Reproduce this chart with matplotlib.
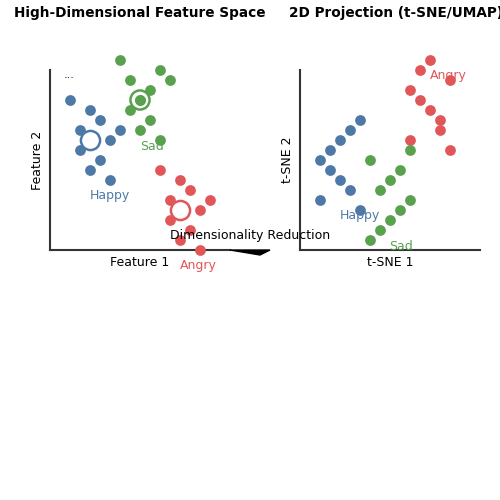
import matplotlib
matplotlib.use("Agg")
import matplotlib.pyplot as plt

BLUE, GREEN, RED = "#4e79a7", "#59a14f", "#e15759"

# high-dimensional space (feature units)
hd_green_x = [12, 13, 16, 17, 15, 14, 13, 15, 14, 16]
hd_green_y = [6, 8, 7, 8, 9, 10, 11, 12, 13, 14]
hd_blue_x = [7, 9, 10, 8, 12, 11, 8, 10, 9, 11]
hd_blue_y = [10, 11, 12, 13, 13, 14, 15, 16, 17, 18]
hd_red_x = [16, 18, 19, 17, 21, 20, 17, 19, 18, 20]
hd_red_y = [17, 18, 19, 20, 20, 21, 22, 23, 24, 25]
centroids = {"blue": (9, 14), "green": (14, 10), "red": (18, 21)}

# t-SNE projection
ts_red_x = [43, 42, 45, 41, 42, 43, 44, 44, 41, 45]
ts_red_y = [6, 7, 8, 9, 10, 11, 12, 13, 14, 15]
ts_blue_x = [36, 35, 34, 33, 32, 33, 34, 35, 32, 36]
ts_blue_y = [12, 13, 14, 15, 16, 17, 18, 19, 20, 21]
ts_green_x = [41, 37, 40, 39, 38, 41, 40, 39, 38, 37]
ts_green_y = [15, 16, 17, 18, 19, 20, 21, 22, 23, 24]

fig = plt.figure(figsize=(5, 5), dpi=100)
ax1 = fig.add_axes([0.1, 0.5, 0.36, 0.36])
ax2 = fig.add_axes([0.6, 0.5, 0.36, 0.36])

for ax, (x0, x1) in ((ax1, (5, 23)), (ax2, (30, 48))):
    ax.set_xlim(x0, x1)
    ax.set_ylim(25, 7)
    ax.set_xticks([]); ax.set_yticks([])
    for s in ("top", "right"):
        ax.spines[s].set_visible(False)
    for s in ("left", "bottom"):
        ax.spines[s].set_linewidth(1.5)
        ax.spines[s].set_color("#333333")

kw = dict(s=60, clip_on=False, zorder=3, linewidths=0)
ax1.scatter(hd_green_x, hd_green_y, color=GREEN, **kw)
ax1.scatter(hd_blue_x, hd_blue_y, color=BLUE, **kw)
ax1.scatter(hd_red_x, hd_red_y, color=RED, **kw)
for name, col in (("blue", BLUE), ("green", GREEN), ("red", RED)):
    cx, cy = centroids[name]
    ax1.scatter([cx], [cy], s=190, facecolor="white" if name != "green" else "none",
                edgecolor=col, linewidth=1.8, zorder=4, clip_on=False)
    if name == "green":
        ax1.scatter([cx], [cy], s=60, color=col, zorder=5, linewidths=0)
ax1.text(6.4, 7.8, "...", fontsize=8)
ax1.text(11, 19.6, "Happy", color=BLUE, ha="center", va="center", fontsize=9)
ax1.text(15.2, 14.6, "Sad", color=GREEN, ha="center", va="center", fontsize=9)
ax1.text(19.8, 26.6, "Angry", color=RED, ha="center", va="center", fontsize=9)
ax1.set_xlabel("Feature 1", fontsize=9)
ax1.set_ylabel("Feature 2", fontsize=9)
ax1.set_title("High-Dimensional Feature Space", fontsize=9.8, fontweight="bold", pad=38)

ax2.scatter(ts_red_x, ts_red_y, color=RED, **kw)
ax2.scatter(ts_blue_x, ts_blue_y, color=BLUE, **kw)
ax2.scatter(ts_green_x, ts_green_y, color=GREEN, **kw)
ax2.text(44.8, 7.6, "Angry", color=RED, ha="center", va="center", fontsize=9)
ax2.text(36, 21.6, "Happy", color=BLUE, ha="center", va="center", fontsize=9)
ax2.text(40.1, 24.6, "Sad", color=GREEN, ha="center", va="center", fontsize=9)
ax2.set_xlabel("t-SNE 1", fontsize=9)
ax2.set_ylabel("t-SNE 2", fontsize=9)
ax2.set_title("2D Projection (t-SNE/UMAP)", fontsize=9.8, fontweight="bold", pad=38, loc="left",
              x=-0.06)
# bring the titles down a bit
for ax in (ax1, ax2):
    ax.title.set_y(0.93)

fig.patches.append(matplotlib.patches.Polygon(
    [(0.46, 0.5), (0.54, 0.5), (0.52, 0.49)], closed=True, color="black",
    transform=fig.transFigure))
fig.text(0.5, 0.528, "Dimensionality Reduction", ha="center", va="center", fontsize=9)

fig.savefig("out.png", dpi=100)
